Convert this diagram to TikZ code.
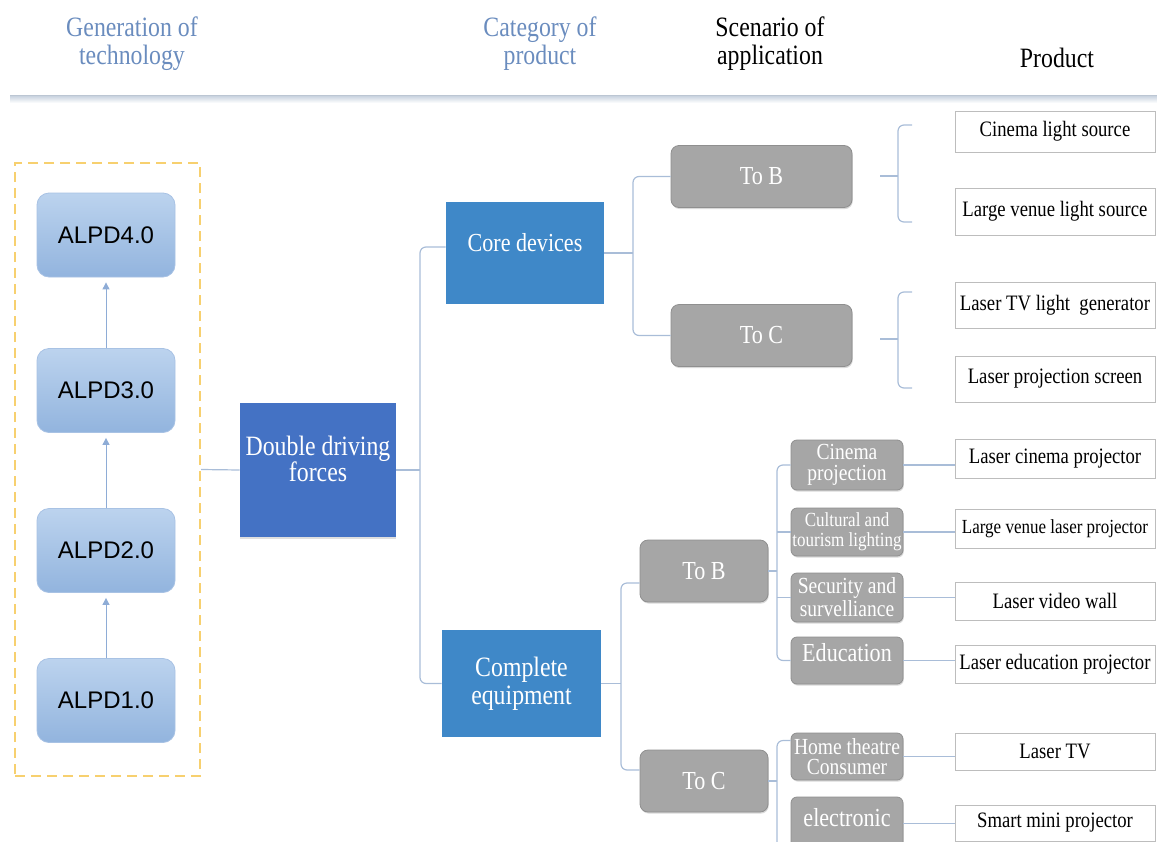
\documentclass[tikz,border=0pt]{standalone}
\usepackage{fontspec}
\newfontfamily\cond{Liberation Serif}[FakeStretch=0.85]
\newfontfamily\sansf{Liberation Sans}
\usetikzlibrary{arrows.meta,shadows}
\definecolor{hdrblue}{HTML}{6A8CBE}
\definecolor{lineblue}{HTML}{A9BDD8}
\definecolor{alpdtop}{HTML}{BCD3EE}
\definecolor{alpdbot}{HTML}{92B4DE}
\definecolor{alpdborder}{HTML}{A8C2E4}
\definecolor{arrowblue}{HTML}{8EACD6}
\definecolor{dashyellow}{HTML}{F7D06F}
\definecolor{ddfblue}{HTML}{4472C4}
\definecolor{catblue}{HTML}{3F88C8}
\definecolor{graybg}{HTML}{A6A6A6}
\definecolor{grayborder}{HTML}{8F8F8F}
\definecolor{prodborder}{HTML}{BDBDBD}
\definecolor{hdrline}{HTML}{C3CEDC}
\tikzset{
  conn/.style={draw=lineblue, line width=0.6pt},
  upar/.style={draw=arrowblue, line width=0.5pt, -{Triangle[width=3.5pt,length=3.5pt]}, shorten >=2.5pt},
  header/.style={align=center, font=\cond\fontsize{14}{14}\selectfont},
  alpd/.style={rounded corners=6pt, draw=alpdborder, top color=alpdtop, bottom color=alpdbot,
    minimum width=69pt, minimum height=42pt, inner sep=0pt, font=\sansf\fontsize{12}{14}\selectfont},
  genbox/.style={draw=dashyellow, dashed, dash pattern=on 5pt off 3pt, line width=1.1pt,
    minimum width=92.5pt, minimum height=306.5pt, inner sep=0pt},
  ddfbox/.style={fill=ddfblue, minimum width=78pt, minimum height=67pt, inner sep=0pt,
    drop shadow={shadow xshift=0pt, shadow yshift=-1.2pt, opacity=0.25}},
  catbox/.style={fill=catblue, minimum width=79pt, inner sep=0pt},
  wtext/.style={text=white, align=center},
  graybox/.style={fill=graybg, draw=grayborder, line width=0.4pt, rounded corners=4pt, text=white,
    inner sep=0pt, align=center,
    drop shadow={shadow xshift=0.4pt, shadow yshift=-0.8pt, opacity=0.3}},
  scen/.style={graybox, font=\cond\fontsize{13}{14}\selectfont, minimum height=31pt},
  app/.style={graybox, rounded corners=3pt, minimum width=56pt},
  prod/.style={draw=prodborder, line width=0.5pt, fill=white, minimum width=100pt, inner sep=0pt,
    font=\cond\fontsize{11}{12}\selectfont}
}
\begin{document}
\begin{tikzpicture}[x=0.5pt,y=-0.5pt]
\useasboundingbox (0,0) rectangle (1157,841);

% headers
\node[header, text=hdrblue] (h1) at (132,44) {Generation of\\technology};
\node[header, text=hdrblue] (h2) at (540,44) {Category of\\product};
\node[header] (h3) at (770,44) {Scenario of\\application};
\node[header] (h4) at (1057,58) {Product};
\shade[top color=hdrline, bottom color=white] (10,95) rectangle (1157,103);
\draw[draw=hdrline!90!gray, line width=0.8pt] (10,95.5) -- (1157,95.5);

% generation of technology
\node[genbox] (gen) at (107.5,469.5) {};
\node[alpd] (a4) at (106,235) {ALPD4.0};
\node[alpd] (a3) at (106,390.5) {ALPD3.0};
\node[alpd] (a2) at (106,550.5) {ALPD2.0};
\node[alpd] (a1) at (106,700.5) {ALPD1.0};
\draw[upar] (a1.north) -- (a2.south);
\draw[upar] (a2.north) -- (a3.south);
\draw[upar] (a3.north) -- (a4.south);

% double driving forces
\node[ddfbox, label={[wtext, font=\cond\fontsize{14}{13}\selectfont, yshift=5.5pt]center:{Double driving\\forces}}] (ddf) at (318,470) {};
\draw[conn] (gen.east) -- (ddf.west);

% categories
\node[catbox, minimum height=51pt, label={[wtext, font=\cond\fontsize{13}{14}\selectfont, yshift=5pt]center:{Core devices}}] (core) at (525,253) {};
\node[catbox, minimum width=79.5pt, minimum height=53.5pt, wtext, font=\cond\fontsize{14}{14}\selectfont] (comp) at (521.5,683.5) {Complete\\equipment};

\coordinate (s1) at (420,0);
\draw[conn] (ddf.east) -- (ddf.east -| s1);
\draw[conn, rounded corners=3pt] ([yshift=3pt]core.west) -- ([yshift=3pt]core.west -| s1) -- (comp.west -| s1) -- (comp.west);

% scenarios for core devices
\node[scen, minimum width=90.5pt] (tbA) at (761.5,176.5) {To B};
\node[scen, minimum width=90.5pt] (tcA) at (761.5,335.5) {To C};
\coordinate (s2) at (633,0);
\draw[conn] (core.east) -- (core.east -| s2);
\draw[conn, rounded corners=3pt] (tbA.west) -- (tbA.west -| s2) -- (tcA.west -| s2) -- (tcA.west);

% scenarios for complete equipment
\node[scen, minimum width=64pt] (tbB) at (704,571) {To B};
\node[scen, minimum width=64pt] (tcB) at (704,781) {To C};
\coordinate (s3) at (621,0);
\draw[conn] (comp.east) -- (comp.east -| s3);
\draw[conn, rounded corners=3pt] ([yshift=-6pt]tbB.west) -- ([yshift=-6pt]tbB.west -| s3) -- ([yshift=5.5pt]tcB.west -| s3) -- ([yshift=5.5pt]tcB.west);

% application boxes
\node[app, minimum height=25pt, font=\cond\fontsize{11.5}{10.5}\selectfont] (cin) at (847,465) {Cinema\\projection};
\node[app, minimum height=24pt, font=\cond\fontsize{10}{10}\selectfont] (cul) at (847,532) {Cultural and\\tourism lighting};
\node[app, minimum height=24.5pt, font=\cond\fontsize{11.5}{10}\selectfont] (sec) at (847,597.5) {Security and\\survelliance};
\node[app, minimum height=23.5pt, label={[wtext, font=\cond\fontsize{13}{14}\selectfont, yshift=4pt]center:{Education}}] (edu) at (847,660.5) {};
\node[app, minimum height=23.5pt, font=\cond\fontsize{11.5}{10}\selectfont] (hom) at (847,756.5) {Home theatre\\Consumer};
\node[app, minimum height=26.5pt, label={[wtext, font=\cond\fontsize{13}{14}\selectfont, yshift=3pt]center:{electronic}}] (ele) at (847,823.5) {};

\coordinate (s4) at (777,0);
\draw[conn] (tbB.east) -- (tbB.east -| s4);
\draw[conn, rounded corners=3pt] (cin.west) -- (cin.west -| s4) -- (edu.west -| s4) -- (edu.west);
\draw[conn] (cul.west) -- (cul.west -| s4);
\draw[conn] (sec.west) -- (sec.west -| s4);
\coordinate (s4end) at (777,860);
\draw[conn] (tcB.east) -- (tcB.east -| s4);
\draw[conn, rounded corners=3pt] ([yshift=8pt]hom.west) -- ([yshift=8pt]hom.west -| s4) -- (s4end);

% products
\node[prod, minimum height=20.5pt] (p1) at (1055,131.5) {Cinema light source};
\node[prod, minimum height=23.5pt] (p2) at (1055,211.5) {Large venue light source};
\node[prod, minimum height=23pt] (p3) at (1055,305) {Laser TV light\ \ generator};
\node[prod, minimum height=23pt] (p4) at (1055,379) {Laser projection screen};
\node[prod, minimum height=19.5pt] (p5) at (1055,458.5) {Laser cinema projector};
\node[prod, minimum height=19.5pt, font=\cond\fontsize{10}{12}\selectfont] (p6) at (1055,528.5) {Large venue laser projector};
\node[prod, minimum height=19pt] (p7) at (1055,601) {Laser video wall};
\node[prod, minimum height=19pt] (p8) at (1055,664) {Laser education projector};
\node[prod, minimum height=18.5pt] (p9) at (1055,751.5) {Laser TV};
\node[prod, minimum height=18pt] (p10) at (1055,823) {Smart mini projector};

% product brackets (core devices)
\coordinate (sA) at (898,0);
\coordinate (qa1) at (912,125);
\coordinate (qa2) at (912,222);
\coordinate (qam) at (880,176);
\draw[conn, rounded corners=3pt] (qa1) -- (qa1 -| sA) -- (qa2 -| sA) -- (qa2);
\draw[conn] (qam) -- (qam -| sA);
\coordinate (qc1) at (912,292);
\coordinate (qc2) at (912,388);
\coordinate (qcm) at (880,339);
\draw[conn, rounded corners=3pt] (qc1) -- (qc1 -| sA) -- (qc2 -| sA) -- (qc2);
\draw[conn] (qcm) -- (qcm -| sA);

% application -> product lines
\draw[conn] (cin.east) -- (cin.east -| p5.west);
\draw[conn] (cul.east) -- (cul.east -| p6.west);
\draw[conn] (sec.east) -- (sec.east -| p7.west);
\draw[conn] (edu.east) -- (edu.east -| p8.west);
\draw[conn] (hom.east) -- (hom.east -| p9.west);
\draw[conn] (ele.east) -- (ele.east -| p10.west);
\end{tikzpicture}
\end{document}
